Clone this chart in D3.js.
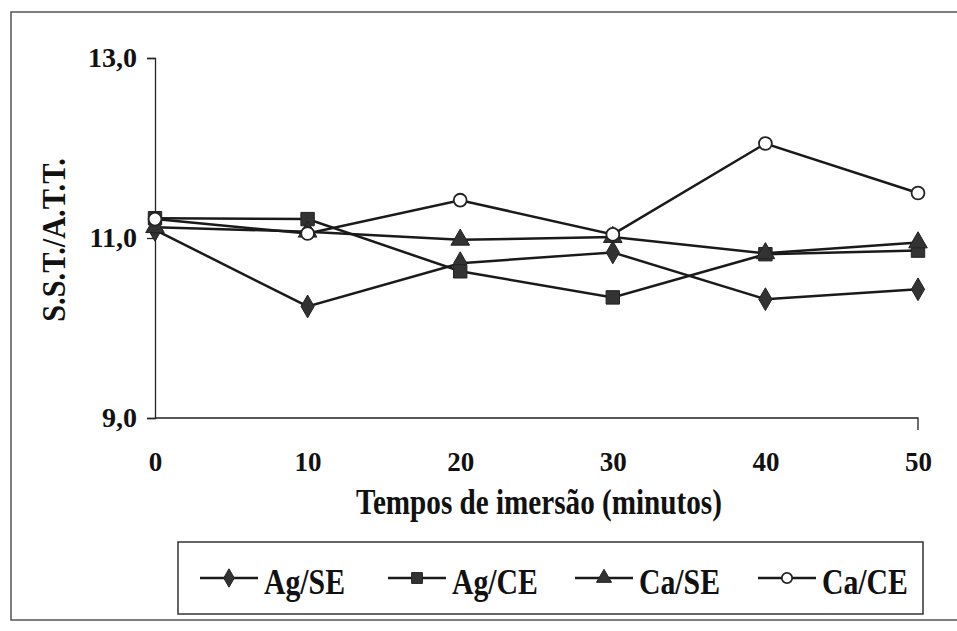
<!DOCTYPE html>
<html><head><meta charset="utf-8">
<script src="https://cdn.jsdelivr.net/npm/d3@7"></script>
<style>body{margin:0;background:#fff}svg{display:block}
svg text{font-family:"Liberation Serif","DejaVu Serif",serif !important;font-weight:bold}</style>
</head><body>
<svg id="c" width="957" height="631"></svg>
<script>
const times = [0, 10, 20, 30, 40, 50];
const agSE = [11.09, 10.24, 10.72, 10.84, 10.32, 10.43];
const agCE = [11.22, 11.21, 10.63, 10.34, 10.82, 10.86];
const caSE = [11.12, 11.07, 10.98, 11.01, 10.83, 10.95];
const caCE = [11.21, 11.05, 11.42, 11.04, 12.05, 11.50];
const seriesNames = ["Ag/SE", "Ag/CE", "Ca/SE", "Ca/CE"];
const seriesSymbols = ["diamond", "square", "triangle", "circle"];
const yTicks = [9, 11, 13];
const yTickLabels = ["9,0", "11,0", "13,0"];
const xTickLabels = ["0", "10", "20", "30", "40", "50"];

const series = [agSE, agCE, caSE, caCE].map((v, i) => ({name: seriesNames[i], sym: seriesSymbols[i], values: v}));

const svg = d3.select("#c");

// outer frame
svg.append("rect").attr("x", 11).attr("y", 12).attr("width", 960).attr("height", 608)
  .attr("fill", "none").attr("stroke", "#555").attr("stroke-width", 1.5);

const x = d3.scaleLinear().domain([0, 50]).range([155, 918]);
const y = d3.scaleLinear().domain([9, 13]).range([418, 58]);

const yAxis = svg.append("g").attr("transform", `translate(${x(0)},0)`)
  .call(d3.axisLeft(y).tickValues(yTicks).tickFormat((d, i) => yTickLabels[i]).tickSize(8).tickPadding(10));
const xAxis = svg.append("g").attr("transform", `translate(0,${y(9)})`)
  .call(d3.axisBottom(x).tickValues(times).tickFormat((d, i) => xTickLabels[i]).tickSize(0).tickPadding(34));
[yAxis, xAxis].forEach(g => {
  g.attr("font-family", null).attr("font-size", null);
  g.select(".domain").attr("stroke", "#222").attr("stroke-width", 1.3);
  g.selectAll(".tick line").attr("stroke", "#222").attr("stroke-width", 1.3);
  g.selectAll("text").style("font-size", "28px").attr("fill", "#111");
});
xAxis.selectAll("text").style("font-size", "27px");
xAxis.select(".domain").attr("d", `M${x(0)},0H${x(50)}V12`);

// axis titles (scan is slightly compressed horizontally -> scaleX)
svg.append("text").attr("transform", `translate(65,${y(11) + 2}) rotate(-90) scale(0.92,1)`)
  .attr("text-anchor", "middle").style("font-size", "33px").attr("fill", "#111").text("S.S.T./A.T.T.");
svg.append("text").attr("transform", "translate(539,514) scale(0.81,1)").attr("text-anchor", "middle")
  .style("font-size", "36px").attr("fill", "#111").text("Tempos de imersão (minutos)");

const symMap = {diamond: d3.symbolDiamond, square: d3.symbolSquare, triangle: d3.symbolTriangle, circle: d3.symbolCircle};
const symSize = {diamond: 150, square: 180, triangle: 150, circle: 130};
function drawSym(g, sym, scale) {
  const p = g.append("path").attr("d", d3.symbol().type(symMap[sym]).size(symSize[sym] * (scale || 1))());
  if (sym === "circle") p.attr("fill", "#fff").attr("stroke", "#222").attr("stroke-width", 1.8);
  else p.attr("fill", "#333").attr("stroke", "#222").attr("stroke-width", 1);
}

const line = d3.line().x((d, i) => x(times[i])).y(d => y(d));
series.forEach(s => {
  svg.append("path").attr("d", line(s.values)).attr("fill", "none")
    .attr("stroke", "#1a1a1a").attr("stroke-width", 2.5);
});
series.forEach(s => {
  s.values.forEach((v, i) => {
    const g = svg.append("g").attr("transform", `translate(${x(times[i])},${y(v)})`);
    drawSym(g, s.sym);
  });
});

// legend
svg.append("rect").attr("x", 178).attr("y", 542).attr("width", 745).attr("height", 72)
  .attr("fill", "#fff").attr("stroke", "#333").attr("stroke-width", 1.5);
const legX = [200, 388, 575, 758];
series.forEach((s, i) => {
  const g = svg.append("g").attr("transform", `translate(${legX[i]},578)`);
  g.append("line").attr("x1", 0).attr("x2", 58).attr("y1", 0).attr("y2", 0).attr("stroke", "#1a1a1a").attr("stroke-width", 2.5);
  const m = g.append("g").attr("transform", "translate(29,0)");
  drawSym(m, s.sym, 0.65);
  g.append("text").attr("transform", "translate(64,16) scale(0.85,1)")
    .style("font-size", "35px").attr("fill", "#111").text(s.name);
});
</script>
</body></html>
